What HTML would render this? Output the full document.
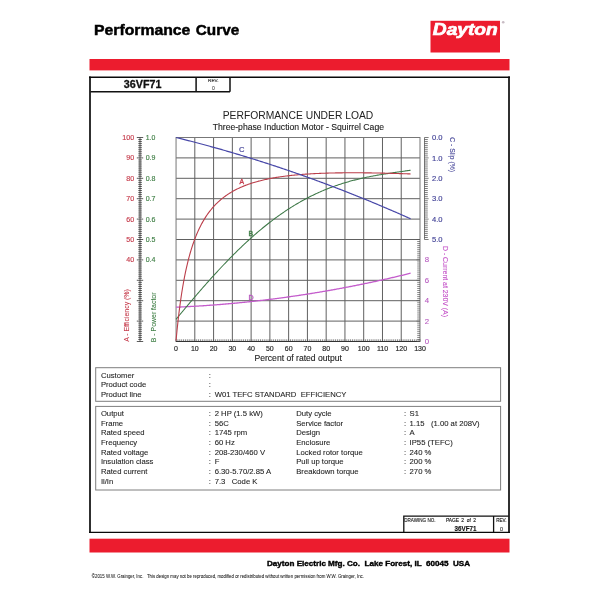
<!DOCTYPE html>
<html><head><meta charset="utf-8"><title>Performance Curve</title>
<style>html,body{margin:0;padding:0;background:#fff;width:600px;height:600px;overflow:hidden}svg{display:block;will-change:transform}text{font-family:"Liberation Sans",sans-serif}</style>
</head><body>
<svg width="600" height="600" viewBox="0 0 600 600" font-family="Liberation Sans, sans-serif">
<rect width="600" height="600" fill="#fff"/>
<text y="35.1" font-size="14.1" font-weight="bold" fill="#000" stroke="#000" stroke-width="0.45"><tspan x="94" textLength="96.4" lengthAdjust="spacingAndGlyphs">Performance</tspan><tspan x="195.8" textLength="43.4" lengthAdjust="spacingAndGlyphs">Curve</tspan></text>
<rect x="430.5" y="20.8" width="69.5" height="31.7" fill="#ec1c2e"/>
<text x="432.8" y="35.2" font-size="17" font-weight="bold" font-style="italic" fill="#fff" stroke="#fff" stroke-width="0.7" textLength="65" lengthAdjust="spacingAndGlyphs">Dayton</text>
<circle cx="503.2" cy="22.3" r="1.3" fill="#c8bcc4"/>
<rect x="89.5" y="59" width="420" height="11.4" fill="#ec1c2e"/>
<rect x="89.5" y="538.7" width="420" height="13.8" fill="#ec1c2e"/>
<rect x="90.4" y="77.2" width="118.4" height="0" fill="none"/>
<path d="M90 76.6 V533.1 M509 76.6 V533.1" stroke="#303030" stroke-width="2" fill="none"/>
<path d="M89 77.3 H510 M89 532.4 H510" stroke="#0a0a0a" stroke-width="1.4" fill="none"/>
<path d="M90.5 91.8 H230 M196.1 77.3 V91.8 M230 77.3 V91.8" stroke="#111" stroke-width="1.5" fill="none"/>
<text x="123.8" y="88" font-size="10.9" font-weight="bold" fill="#111" stroke="#111" stroke-width="0.3" textLength="37.6" lengthAdjust="spacingAndGlyphs">36VF71</text>
<text x="213.3" y="82.4" font-size="4.1" fill="#222" stroke="#222" stroke-width="0.1" text-anchor="middle" textLength="10.4" lengthAdjust="spacingAndGlyphs">REV.</text>
<text x="213.3" y="89.7" font-size="5.1" fill="#222" text-anchor="middle">0</text>
<text x="222.7" y="119" font-size="10.3" fill="#222" textLength="150.6" lengthAdjust="spacingAndGlyphs">PERFORMANCE UNDER LOAD</text>
<text x="212.7" y="130.2" font-size="8.6" fill="#222" stroke="#222" stroke-width="0.12" textLength="171.3" lengthAdjust="spacingAndGlyphs">Three-phase Induction Motor - Squirrel Cage</text>
<path d="M194.81 137.5 V341.5 M213.58 137.5 V341.5 M232.35 137.5 V341.5 M251.11 137.5 V341.5 M269.88 137.5 V341.5 M288.64 137.5 V341.5 M307.41 137.5 V341.5 M326.17 137.5 V341.5 M344.94 137.5 V341.5 M363.70 137.5 V341.5 M382.47 137.5 V341.5 M401.23 137.5 V341.5 M176.05 157.90 H420.00 M176.05 178.30 H420.00 M176.05 198.70 H420.00 M176.05 219.10 H420.00 M176.05 239.50 H420.00 M176.05 259.90 H420.00 M176.05 280.30 H420.00 M176.05 300.70 H420.00 M176.05 321.10 H420.00" stroke="#606060" stroke-width="1" fill="none"/>
<rect x="176.05" y="137.5" width="243.94" height="204.00" fill="none" stroke="#777" stroke-width="1"/>
<path d="M176.05 341.5 v-2.2 M177.93 341.5 v-2.2 M179.80 341.5 v-2.2 M181.68 341.5 v-2.2 M183.56 341.5 v-2.2 M185.43 341.5 v-2.2 M187.31 341.5 v-2.2 M189.19 341.5 v-2.2 M191.06 341.5 v-2.2 M192.94 341.5 v-2.2 M194.81 341.5 v-2.2 M196.69 341.5 v-2.2 M198.57 341.5 v-2.2 M200.44 341.5 v-2.2 M202.32 341.5 v-2.2 M204.20 341.5 v-2.2 M206.07 341.5 v-2.2 M207.95 341.5 v-2.2 M209.83 341.5 v-2.2 M211.70 341.5 v-2.2 M213.58 341.5 v-2.2 M215.46 341.5 v-2.2 M217.33 341.5 v-2.2 M219.21 341.5 v-2.2 M221.09 341.5 v-2.2 M222.96 341.5 v-2.2 M224.84 341.5 v-2.2 M226.72 341.5 v-2.2 M228.59 341.5 v-2.2 M230.47 341.5 v-2.2 M232.35 341.5 v-2.2 M234.22 341.5 v-2.2 M236.10 341.5 v-2.2 M237.97 341.5 v-2.2 M239.85 341.5 v-2.2 M241.73 341.5 v-2.2 M243.60 341.5 v-2.2 M245.48 341.5 v-2.2 M247.36 341.5 v-2.2 M249.23 341.5 v-2.2 M251.11 341.5 v-2.2 M252.99 341.5 v-2.2 M254.86 341.5 v-2.2 M256.74 341.5 v-2.2 M258.62 341.5 v-2.2 M260.49 341.5 v-2.2 M262.37 341.5 v-2.2 M264.25 341.5 v-2.2 M266.12 341.5 v-2.2 M268.00 341.5 v-2.2 M269.88 341.5 v-2.2 M271.75 341.5 v-2.2 M273.63 341.5 v-2.2 M275.50 341.5 v-2.2 M277.38 341.5 v-2.2 M279.26 341.5 v-2.2 M281.13 341.5 v-2.2 M283.01 341.5 v-2.2 M284.89 341.5 v-2.2 M286.76 341.5 v-2.2 M288.64 341.5 v-2.2 M290.52 341.5 v-2.2 M292.39 341.5 v-2.2 M294.27 341.5 v-2.2 M296.15 341.5 v-2.2 M298.02 341.5 v-2.2 M299.90 341.5 v-2.2 M301.78 341.5 v-2.2 M303.65 341.5 v-2.2 M305.53 341.5 v-2.2 M307.41 341.5 v-2.2 M309.28 341.5 v-2.2 M311.16 341.5 v-2.2 M313.03 341.5 v-2.2 M314.91 341.5 v-2.2 M316.79 341.5 v-2.2 M318.66 341.5 v-2.2 M320.54 341.5 v-2.2 M322.42 341.5 v-2.2 M324.29 341.5 v-2.2 M326.17 341.5 v-2.2 M328.05 341.5 v-2.2 M329.92 341.5 v-2.2 M331.80 341.5 v-2.2 M333.68 341.5 v-2.2 M335.55 341.5 v-2.2 M337.43 341.5 v-2.2 M339.31 341.5 v-2.2 M341.18 341.5 v-2.2 M343.06 341.5 v-2.2 M344.94 341.5 v-2.2 M346.81 341.5 v-2.2 M348.69 341.5 v-2.2 M350.56 341.5 v-2.2 M352.44 341.5 v-2.2 M354.32 341.5 v-2.2 M356.19 341.5 v-2.2 M358.07 341.5 v-2.2 M359.95 341.5 v-2.2 M361.82 341.5 v-2.2 M363.70 341.5 v-2.2 M365.58 341.5 v-2.2 M367.45 341.5 v-2.2 M369.33 341.5 v-2.2 M371.21 341.5 v-2.2 M373.08 341.5 v-2.2 M374.96 341.5 v-2.2 M376.84 341.5 v-2.2 M378.71 341.5 v-2.2 M380.59 341.5 v-2.2 M382.47 341.5 v-2.2 M384.34 341.5 v-2.2 M386.22 341.5 v-2.2 M388.09 341.5 v-2.2 M389.97 341.5 v-2.2 M391.85 341.5 v-2.2 M393.72 341.5 v-2.2 M395.60 341.5 v-2.2 M397.48 341.5 v-2.2 M399.35 341.5 v-2.2 M401.23 341.5 v-2.2 M403.11 341.5 v-2.2 M404.98 341.5 v-2.2 M406.86 341.5 v-2.2 M408.74 341.5 v-2.2 M410.61 341.5 v-2.2 M412.49 341.5 v-2.2 M414.37 341.5 v-2.2 M416.24 341.5 v-2.2 M418.12 341.5 v-2.2 M420.00 341.5 v-2.2" stroke="#555" stroke-width="0.7" fill="none"/>
<path d="M176.05 341.5 H420.00" stroke="#333" stroke-width="1.2"/>
<path d="M140 137.5 V341.5 M136.8 341.50 H143.2 M138.3 339.46 H141.9 M138.3 337.42 H141.9 M138.3 335.38 H141.9 M138.3 333.34 H141.9 M138.3 331.30 H141.9 M138.3 329.26 H141.9 M138.3 327.22 H141.9 M138.3 325.18 H141.9 M138.3 323.14 H141.9 M136.8 321.10 H143.2 M138.3 319.06 H141.9 M138.3 317.02 H141.9 M138.3 314.98 H141.9 M138.3 312.94 H141.9 M138.3 310.90 H141.9 M138.3 308.86 H141.9 M138.3 306.82 H141.9 M138.3 304.78 H141.9 M138.3 302.74 H141.9 M136.8 300.70 H143.2 M138.3 298.66 H141.9 M138.3 296.62 H141.9 M138.3 294.58 H141.9 M138.3 292.54 H141.9 M138.3 290.50 H141.9 M138.3 288.46 H141.9 M138.3 286.42 H141.9 M138.3 284.38 H141.9 M138.3 282.34 H141.9 M136.8 280.30 H143.2 M138.3 278.26 H141.9 M138.3 276.22 H141.9 M138.3 274.18 H141.9 M138.3 272.14 H141.9 M138.3 270.10 H141.9 M138.3 268.06 H141.9 M138.3 266.02 H141.9 M138.3 263.98 H141.9 M138.3 261.94 H141.9 M136.8 259.90 H143.2 M138.3 257.86 H141.9 M138.3 255.82 H141.9 M138.3 253.78 H141.9 M138.3 251.74 H141.9 M138.3 249.70 H141.9 M138.3 247.66 H141.9 M138.3 245.62 H141.9 M138.3 243.58 H141.9 M138.3 241.54 H141.9 M136.8 239.50 H143.2 M138.3 237.46 H141.9 M138.3 235.42 H141.9 M138.3 233.38 H141.9 M138.3 231.34 H141.9 M138.3 229.30 H141.9 M138.3 227.26 H141.9 M138.3 225.22 H141.9 M138.3 223.18 H141.9 M138.3 221.14 H141.9 M136.8 219.10 H143.2 M138.3 217.06 H141.9 M138.3 215.02 H141.9 M138.3 212.98 H141.9 M138.3 210.94 H141.9 M138.3 208.90 H141.9 M138.3 206.86 H141.9 M138.3 204.82 H141.9 M138.3 202.78 H141.9 M138.3 200.74 H141.9 M136.8 198.70 H143.2 M138.3 196.66 H141.9 M138.3 194.62 H141.9 M138.3 192.58 H141.9 M138.3 190.54 H141.9 M138.3 188.50 H141.9 M138.3 186.46 H141.9 M138.3 184.42 H141.9 M138.3 182.38 H141.9 M138.3 180.34 H141.9 M136.8 178.30 H143.2 M138.3 176.26 H141.9 M138.3 174.22 H141.9 M138.3 172.18 H141.9 M138.3 170.14 H141.9 M138.3 168.10 H141.9 M138.3 166.06 H141.9 M138.3 164.02 H141.9 M138.3 161.98 H141.9 M138.3 159.94 H141.9 M136.8 157.90 H143.2 M138.3 155.86 H141.9 M138.3 153.82 H141.9 M138.3 151.78 H141.9 M138.3 149.74 H141.9 M138.3 147.70 H141.9 M138.3 145.66 H141.9 M138.3 143.62 H141.9 M138.3 141.58 H141.9 M138.3 139.54 H141.9 M136.8 137.50 H143.2" stroke="#333" stroke-width="0.8" fill="none"/>
<text x="134.2" y="262.40" font-size="7.1" fill="#c63c4c" stroke="#c63c4c" stroke-width="0.15" text-anchor="end">40</text>
<text x="145.7" y="262.40" font-size="7.1" fill="#3f7f45" stroke="#3f7f45" stroke-width="0.15" textLength="9.8" lengthAdjust="spacingAndGlyphs">0.4</text>
<text x="134.2" y="242.00" font-size="7.1" fill="#c63c4c" stroke="#c63c4c" stroke-width="0.15" text-anchor="end">50</text>
<text x="145.7" y="242.00" font-size="7.1" fill="#3f7f45" stroke="#3f7f45" stroke-width="0.15" textLength="9.8" lengthAdjust="spacingAndGlyphs">0.5</text>
<text x="134.2" y="221.60" font-size="7.1" fill="#c63c4c" stroke="#c63c4c" stroke-width="0.15" text-anchor="end">60</text>
<text x="145.7" y="221.60" font-size="7.1" fill="#3f7f45" stroke="#3f7f45" stroke-width="0.15" textLength="9.8" lengthAdjust="spacingAndGlyphs">0.6</text>
<text x="134.2" y="201.20" font-size="7.1" fill="#c63c4c" stroke="#c63c4c" stroke-width="0.15" text-anchor="end">70</text>
<text x="145.7" y="201.20" font-size="7.1" fill="#3f7f45" stroke="#3f7f45" stroke-width="0.15" textLength="9.8" lengthAdjust="spacingAndGlyphs">0.7</text>
<text x="134.2" y="180.80" font-size="7.1" fill="#c63c4c" stroke="#c63c4c" stroke-width="0.15" text-anchor="end">80</text>
<text x="145.7" y="180.80" font-size="7.1" fill="#3f7f45" stroke="#3f7f45" stroke-width="0.15" textLength="9.8" lengthAdjust="spacingAndGlyphs">0.8</text>
<text x="134.2" y="160.40" font-size="7.1" fill="#c63c4c" stroke="#c63c4c" stroke-width="0.15" text-anchor="end">90</text>
<text x="145.7" y="160.40" font-size="7.1" fill="#3f7f45" stroke="#3f7f45" stroke-width="0.15" textLength="9.8" lengthAdjust="spacingAndGlyphs">0.9</text>
<text x="134.2" y="140.00" font-size="7.1" fill="#c63c4c" stroke="#c63c4c" stroke-width="0.15" text-anchor="end">100</text>
<text x="145.7" y="140.00" font-size="7.1" fill="#3f7f45" stroke="#3f7f45" stroke-width="0.15" textLength="9.6" lengthAdjust="spacingAndGlyphs">1.0</text>
<text transform="translate(129.3 341.8) rotate(-90)" font-size="6.9" fill="#c63c4c" stroke="#c63c4c" stroke-width="0.1" textLength="52.6" lengthAdjust="spacingAndGlyphs">A - Efficiency (%)</text>
<text transform="translate(155.9 342.3) rotate(-90)" font-size="6.9" fill="#3f7f45" stroke="#3f7f45" stroke-width="0.1" textLength="49.8" lengthAdjust="spacingAndGlyphs">B - Power factor</text>
<path d="M424.5 137.5 V239.50 M424.5 137.50 H428.6 M424.5 139.54 H427.8 M424.5 141.58 H427.8 M424.5 143.62 H427.8 M424.5 145.66 H427.8 M424.5 147.70 H427.8 M424.5 149.74 H427.8 M424.5 151.78 H427.8 M424.5 153.82 H427.8 M424.5 155.86 H427.8 M424.5 157.90 H428.6 M424.5 159.94 H427.8 M424.5 161.98 H427.8 M424.5 164.02 H427.8 M424.5 166.06 H427.8 M424.5 168.10 H427.8 M424.5 170.14 H427.8 M424.5 172.18 H427.8 M424.5 174.22 H427.8 M424.5 176.26 H427.8 M424.5 178.30 H428.6 M424.5 180.34 H427.8 M424.5 182.38 H427.8 M424.5 184.42 H427.8 M424.5 186.46 H427.8 M424.5 188.50 H427.8 M424.5 190.54 H427.8 M424.5 192.58 H427.8 M424.5 194.62 H427.8 M424.5 196.66 H427.8 M424.5 198.70 H428.6 M424.5 200.74 H427.8 M424.5 202.78 H427.8 M424.5 204.82 H427.8 M424.5 206.86 H427.8 M424.5 208.90 H427.8 M424.5 210.94 H427.8 M424.5 212.98 H427.8 M424.5 215.02 H427.8 M424.5 217.06 H427.8 M424.5 219.10 H428.6 M424.5 221.14 H427.8 M424.5 223.18 H427.8 M424.5 225.22 H427.8 M424.5 227.26 H427.8 M424.5 229.30 H427.8 M424.5 231.34 H427.8 M424.5 233.38 H427.8 M424.5 235.42 H427.8 M424.5 237.46 H427.8 M424.5 239.50 H428.6" stroke="#444" stroke-width="0.7" fill="none"/>
<text x="432" y="140.20" font-size="7.6" fill="#3f3f95" stroke="#3f3f95" stroke-width="0.15">0.0</text>
<text x="432" y="160.60" font-size="7.6" fill="#3f3f95" stroke="#3f3f95" stroke-width="0.15">1.0</text>
<text x="432" y="181.00" font-size="7.6" fill="#3f3f95" stroke="#3f3f95" stroke-width="0.15">2.0</text>
<text x="432" y="201.40" font-size="7.6" fill="#3f3f95" stroke="#3f3f95" stroke-width="0.15">3.0</text>
<text x="432" y="221.80" font-size="7.6" fill="#3f3f95" stroke="#3f3f95" stroke-width="0.15">4.0</text>
<text x="432" y="242.20" font-size="7.6" fill="#3f3f95" stroke="#3f3f95" stroke-width="0.15">5.0</text>
<text transform="translate(449.8 137.3) rotate(90)" font-size="6.8" fill="#3f3f95" stroke="#3f3f95" stroke-width="0.1" textLength="34.7" lengthAdjust="spacingAndGlyphs">C - Slip (%)</text>
<path d="M420.00 341.50 h-3.4 M420.00 339.46 h-2.8 M420.00 337.42 h-2.8 M420.00 335.38 h-2.8 M420.00 333.34 h-2.8 M420.00 331.30 h-2.8 M420.00 329.26 h-2.8 M420.00 327.22 h-2.8 M420.00 325.18 h-2.8 M420.00 323.14 h-2.8 M420.00 321.10 h-3.4 M420.00 319.06 h-2.8 M420.00 317.02 h-2.8 M420.00 314.98 h-2.8 M420.00 312.94 h-2.8 M420.00 310.90 h-2.8 M420.00 308.86 h-2.8 M420.00 306.82 h-2.8 M420.00 304.78 h-2.8 M420.00 302.74 h-2.8 M420.00 300.70 h-3.4 M420.00 298.66 h-2.8 M420.00 296.62 h-2.8 M420.00 294.58 h-2.8 M420.00 292.54 h-2.8 M420.00 290.50 h-2.8 M420.00 288.46 h-2.8 M420.00 286.42 h-2.8 M420.00 284.38 h-2.8 M420.00 282.34 h-2.8 M420.00 280.30 h-3.4 M420.00 278.26 h-2.8 M420.00 276.22 h-2.8 M420.00 274.18 h-2.8 M420.00 272.14 h-2.8 M420.00 270.10 h-2.8 M420.00 268.06 h-2.8 M420.00 266.02 h-2.8 M420.00 263.98 h-2.8 M420.00 261.94 h-2.8 M420.00 259.90 h-3.4 M420.00 257.86 h-2.8 M420.00 255.82 h-2.8 M420.00 253.78 h-2.8 M420.00 251.74 h-2.8 M420.00 249.70 h-2.8 M420.00 247.66 h-2.8 M420.00 245.62 h-2.8 M420.00 243.58 h-2.8 M420.00 241.54 h-2.8 M420.00 239.50 h-3.4" stroke="#555" stroke-width="0.7" fill="none"/>
<text x="426.9" y="343.90" font-size="7.8" fill="#b85cc0" stroke="#b85cc0" stroke-width="0.12" text-anchor="middle">0</text>
<text x="426.9" y="323.50" font-size="7.8" fill="#b85cc0" stroke="#b85cc0" stroke-width="0.12" text-anchor="middle">2</text>
<text x="426.9" y="303.10" font-size="7.8" fill="#b85cc0" stroke="#b85cc0" stroke-width="0.12" text-anchor="middle">4</text>
<text x="426.9" y="282.70" font-size="7.8" fill="#b85cc0" stroke="#b85cc0" stroke-width="0.12" text-anchor="middle">6</text>
<text x="426.9" y="262.30" font-size="7.8" fill="#b85cc0" stroke="#b85cc0" stroke-width="0.12" text-anchor="middle">8</text>
<text transform="translate(442.5 246) rotate(90)" font-size="6.9" fill="#c452c8" stroke="#c452c8" stroke-width="0.1" textLength="71" lengthAdjust="spacingAndGlyphs">D - Current at 230V (A)</text>
<text x="176.05" y="350.9" font-size="7" fill="#222" stroke="#222" stroke-width="0.15" text-anchor="middle">0</text>
<text x="194.81" y="350.9" font-size="7" fill="#222" stroke="#222" stroke-width="0.15" text-anchor="middle">10</text>
<text x="213.58" y="350.9" font-size="7" fill="#222" stroke="#222" stroke-width="0.15" text-anchor="middle">20</text>
<text x="232.35" y="350.9" font-size="7" fill="#222" stroke="#222" stroke-width="0.15" text-anchor="middle">30</text>
<text x="251.11" y="350.9" font-size="7" fill="#222" stroke="#222" stroke-width="0.15" text-anchor="middle">40</text>
<text x="269.88" y="350.9" font-size="7" fill="#222" stroke="#222" stroke-width="0.15" text-anchor="middle">50</text>
<text x="288.64" y="350.9" font-size="7" fill="#222" stroke="#222" stroke-width="0.15" text-anchor="middle">60</text>
<text x="307.41" y="350.9" font-size="7" fill="#222" stroke="#222" stroke-width="0.15" text-anchor="middle">70</text>
<text x="326.17" y="350.9" font-size="7" fill="#222" stroke="#222" stroke-width="0.15" text-anchor="middle">80</text>
<text x="344.94" y="350.9" font-size="7" fill="#222" stroke="#222" stroke-width="0.15" text-anchor="middle">90</text>
<text x="363.70" y="350.9" font-size="7" fill="#222" stroke="#222" stroke-width="0.15" text-anchor="middle">100</text>
<text x="382.47" y="350.9" font-size="7" fill="#222" stroke="#222" stroke-width="0.15" text-anchor="middle">110</text>
<text x="401.23" y="350.9" font-size="7" fill="#222" stroke="#222" stroke-width="0.15" text-anchor="middle">120</text>
<text x="420.00" y="350.9" font-size="7" fill="#222" stroke="#222" stroke-width="0.15" text-anchor="middle">130</text>
<text x="254.4" y="361.2" font-size="8.7" fill="#222" stroke="#222" stroke-width="0.12" textLength="87.6" lengthAdjust="spacingAndGlyphs">Percent of rated output</text>
<path d="M176.05,307.21 L176.99,307.17 L177.93,307.13 L178.86,307.09 L179.80,307.04 L180.74,307.00 L181.68,306.96 L182.62,306.91 L183.56,306.86 L184.49,306.82 L185.43,306.77 L186.37,306.72 L187.31,306.67 L188.25,306.62 L189.19,306.57 L190.12,306.52 L191.06,306.47 L192.00,306.42 L192.94,306.36 L193.88,306.31 L194.81,306.26 L195.75,306.20 L196.69,306.14 L197.63,306.09 L198.57,306.03 L199.51,305.97 L200.44,305.91 L201.38,305.85 L202.32,305.79 L203.26,305.73 L204.20,305.66 L205.14,305.60 L206.07,305.54 L207.01,305.47 L207.95,305.40 L208.89,305.34 L209.83,305.27 L210.77,305.20 L211.70,305.13 L212.64,305.06 L213.58,304.99 L214.52,304.92 L215.46,304.85 L216.39,304.78 L217.33,304.70 L218.27,304.63 L219.21,304.56 L220.15,304.48 L221.09,304.40 L222.02,304.33 L222.96,304.25 L223.90,304.17 L224.84,304.09 L225.78,304.01 L226.72,303.93 L227.65,303.85 L228.59,303.76 L229.53,303.68 L230.47,303.60 L231.41,303.51 L232.35,303.43 L233.28,303.34 L234.22,303.25 L235.16,303.16 L236.10,303.08 L237.04,302.99 L237.97,302.90 L238.91,302.80 L239.85,302.71 L240.79,302.62 L241.73,302.53 L242.67,302.43 L243.60,302.34 L244.54,302.24 L245.48,302.15 L246.42,302.05 L247.36,301.95 L248.30,301.85 L249.23,301.75 L250.17,301.65 L251.11,301.55 L252.05,301.45 L252.99,301.35 L253.92,301.24 L254.86,301.14 L255.80,301.04 L256.74,300.93 L257.68,300.82 L258.62,300.72 L259.55,300.61 L260.49,300.50 L261.43,300.39 L262.37,300.28 L263.31,300.17 L264.25,300.06 L265.18,299.94 L266.12,299.83 L267.06,299.72 L268.00,299.60 L268.94,299.49 L269.88,299.37 L270.81,299.25 L271.75,299.14 L272.69,299.02 L273.63,298.90 L274.57,298.78 L275.50,298.66 L276.44,298.53 L277.38,298.41 L278.32,298.29 L279.26,298.17 L280.20,298.04 L281.13,297.91 L282.07,297.79 L283.01,297.66 L283.95,297.53 L284.89,297.40 L285.83,297.28 L286.76,297.15 L287.70,297.01 L288.64,296.88 L289.58,296.75 L290.52,296.62 L291.45,296.48 L292.39,296.35 L293.33,296.21 L294.27,296.08 L295.21,295.94 L296.15,295.80 L297.08,295.66 L298.02,295.52 L298.96,295.38 L299.90,295.24 L300.84,295.10 L301.78,294.96 L302.71,294.82 L303.65,294.67 L304.59,294.53 L305.53,294.38 L306.47,294.24 L307.41,294.09 L308.34,293.94 L309.28,293.79 L310.22,293.64 L311.16,293.49 L312.10,293.34 L313.03,293.19 L313.97,293.04 L314.91,292.89 L315.85,292.73 L316.79,292.58 L317.73,292.42 L318.66,292.27 L319.60,292.11 L320.54,291.95 L321.48,291.79 L322.42,291.63 L323.36,291.47 L324.29,291.31 L325.23,291.15 L326.17,290.99 L327.11,290.82 L328.05,290.66 L328.98,290.50 L329.92,290.33 L330.86,290.17 L331.80,290.00 L332.74,289.83 L333.68,289.66 L334.61,289.49 L335.55,289.32 L336.49,289.15 L337.43,288.98 L338.37,288.81 L339.31,288.64 L340.24,288.46 L341.18,288.29 L342.12,288.11 L343.06,287.94 L344.00,287.76 L344.94,287.58 L345.87,287.40 L346.81,287.22 L347.75,287.04 L348.69,286.86 L349.63,286.68 L350.56,286.50 L351.50,286.32 L352.44,286.13 L353.38,285.95 L354.32,285.76 L355.26,285.58 L356.19,285.39 L357.13,285.20 L358.07,285.01 L359.01,284.82 L359.95,284.63 L360.89,284.44 L361.82,284.25 L362.76,284.06 L363.70,283.87 L364.64,283.67 L365.58,283.48 L366.51,283.28 L367.45,283.09 L368.39,282.89 L369.33,282.69 L370.27,282.49 L371.21,282.30 L372.14,282.10 L373.08,281.90 L374.02,281.69 L374.96,281.49 L375.90,281.29 L376.84,281.08 L377.77,280.88 L378.71,280.68 L379.65,280.47 L380.59,280.26 L381.53,280.05 L382.47,279.85 L383.40,279.64 L384.34,279.43 L385.28,279.22 L386.22,279.01 L387.16,278.79 L388.09,278.58 L389.03,278.37 L389.97,278.15 L390.91,277.94 L391.85,277.72 L392.79,277.50 L393.72,277.29 L394.66,277.07 L395.60,276.85 L396.54,276.63 L397.48,276.41 L398.42,276.19 L399.35,275.97 L400.29,275.74 L401.23,275.52 L402.17,275.30 L403.11,275.07 L404.04,274.84 L404.98,274.62 L405.92,274.39 L406.86,274.16 L407.80,273.93 L408.74,273.70 L409.67,273.47 L410.61,273.24" stroke="#c45ccc" stroke-width="1.3" fill="none"/>
<path d="M176.05,319.29 L176.99,318.16 L177.93,317.03 L178.86,315.90 L179.80,314.77 L180.74,313.64 L181.68,312.51 L182.62,311.39 L183.56,310.26 L184.49,309.14 L185.43,308.02 L186.37,306.90 L187.31,305.79 L188.25,304.67 L189.19,303.56 L190.12,302.45 L191.06,301.34 L192.00,300.24 L192.94,299.14 L193.88,298.04 L194.81,296.94 L195.75,295.84 L196.69,294.75 L197.63,293.66 L198.57,292.57 L199.51,291.49 L200.44,290.41 L201.38,289.33 L202.32,288.25 L203.26,287.18 L204.20,286.11 L205.14,285.05 L206.07,283.98 L207.01,282.92 L207.95,281.87 L208.89,280.82 L209.83,279.77 L210.77,278.72 L211.70,277.68 L212.64,276.64 L213.58,275.61 L214.52,274.58 L215.46,273.56 L216.39,272.53 L217.33,271.52 L218.27,270.50 L219.21,269.49 L220.15,268.49 L221.09,267.49 L222.02,266.49 L222.96,265.50 L223.90,264.51 L224.84,263.52 L225.78,262.55 L226.72,261.57 L227.65,260.60 L228.59,259.64 L229.53,258.67 L230.47,257.72 L231.41,256.77 L232.35,255.82 L233.28,254.88 L234.22,253.94 L235.16,253.01 L236.10,252.08 L237.04,251.16 L237.97,250.24 L238.91,249.33 L239.85,248.42 L240.79,247.52 L241.73,246.63 L242.67,245.74 L243.60,244.85 L244.54,243.97 L245.48,243.09 L246.42,242.22 L247.36,241.36 L248.30,240.50 L249.23,239.65 L250.17,238.80 L251.11,237.95 L252.05,237.12 L252.99,236.28 L253.92,235.46 L254.86,234.64 L255.80,233.82 L256.74,233.01 L257.68,232.21 L258.62,231.41 L259.55,230.62 L260.49,229.83 L261.43,229.05 L262.37,228.27 L263.31,227.50 L264.25,226.74 L265.18,225.98 L266.12,225.23 L267.06,224.48 L268.00,223.74 L268.94,223.01 L269.88,222.28 L270.81,221.56 L271.75,220.84 L272.69,220.13 L273.63,219.42 L274.57,218.73 L275.50,218.03 L276.44,217.34 L277.38,216.66 L278.32,215.99 L279.26,215.32 L280.20,214.65 L281.13,214.00 L282.07,213.35 L283.01,212.70 L283.95,212.06 L284.89,211.43 L285.83,210.80 L286.76,210.18 L287.70,209.56 L288.64,208.95 L289.58,208.35 L290.52,207.75 L291.45,207.16 L292.39,206.57 L293.33,205.99 L294.27,205.42 L295.21,204.85 L296.15,204.29 L297.08,203.73 L298.02,203.18 L298.96,202.63 L299.90,202.10 L300.84,201.56 L301.78,201.04 L302.71,200.51 L303.65,200.00 L304.59,199.49 L305.53,198.99 L306.47,198.49 L307.41,198.00 L308.34,197.51 L309.28,197.03 L310.22,196.55 L311.16,196.08 L312.10,195.62 L313.03,195.16 L313.97,194.71 L314.91,194.26 L315.85,193.82 L316.79,193.38 L317.73,192.95 L318.66,192.53 L319.60,192.11 L320.54,191.70 L321.48,191.29 L322.42,190.88 L323.36,190.49 L324.29,190.09 L325.23,189.71 L326.17,189.33 L327.11,188.95 L328.05,188.58 L328.98,188.21 L329.92,187.85 L330.86,187.49 L331.80,187.14 L332.74,186.80 L333.68,186.45 L334.61,186.12 L335.55,185.79 L336.49,185.46 L337.43,185.14 L338.37,184.82 L339.31,184.51 L340.24,184.20 L341.18,183.90 L342.12,183.60 L343.06,183.31 L344.00,183.02 L344.94,182.73 L345.87,182.45 L346.81,182.18 L347.75,181.90 L348.69,181.64 L349.63,181.37 L350.56,181.11 L351.50,180.86 L352.44,180.61 L353.38,180.36 L354.32,180.12 L355.26,179.88 L356.19,179.64 L357.13,179.41 L358.07,179.18 L359.01,178.96 L359.95,178.74 L360.89,178.52 L361.82,178.31 L362.76,178.10 L363.70,177.89 L364.64,177.69 L365.58,177.49 L366.51,177.29 L367.45,177.10 L368.39,176.90 L369.33,176.72 L370.27,176.53 L371.21,176.35 L372.14,176.17 L373.08,175.99 L374.02,175.82 L374.96,175.65 L375.90,175.48 L376.84,175.31 L377.77,175.14 L378.71,174.98 L379.65,174.82 L380.59,174.66 L381.53,174.51 L382.47,174.35 L383.40,174.20 L384.34,174.05 L385.28,173.90 L386.22,173.75 L387.16,173.61 L388.09,173.46 L389.03,173.32 L389.97,173.18 L390.91,173.04 L391.85,172.90 L392.79,172.76 L393.72,172.63 L394.66,172.49 L395.60,172.36 L396.54,172.22 L397.48,172.09 L398.42,171.95 L399.35,171.82 L400.29,171.69 L401.23,171.55 L402.17,171.42 L403.11,171.29 L404.04,171.16 L404.98,171.03 L405.92,170.89 L406.86,170.76 L407.80,170.63 L408.74,170.49 L409.67,170.36 L410.61,170.22" stroke="#3d7847" stroke-width="1.05" fill="none"/>
<path d="M176.05,340.50 L176.99,330.73 L177.93,321.86 L178.86,313.77 L179.80,306.37 L180.74,299.56 L181.68,293.29 L182.62,287.49 L183.56,282.12 L184.49,277.12 L185.43,272.46 L186.37,268.11 L187.31,264.04 L188.25,260.22 L189.19,256.64 L190.12,253.27 L191.06,250.08 L192.00,247.08 L192.94,244.24 L193.88,241.56 L194.81,239.01 L195.75,236.59 L196.69,234.29 L197.63,232.11 L198.57,230.03 L199.51,228.05 L200.44,226.15 L201.38,224.35 L202.32,222.62 L203.26,220.97 L204.20,219.39 L205.14,217.87 L206.07,216.42 L207.01,215.02 L207.95,213.69 L208.89,212.40 L209.83,211.17 L210.77,209.98 L211.70,208.83 L212.64,207.73 L213.58,206.67 L214.52,205.65 L215.46,204.66 L216.39,203.71 L217.33,202.79 L218.27,201.91 L219.21,201.05 L220.15,200.22 L221.09,199.42 L222.02,198.65 L222.96,197.90 L223.90,197.17 L224.84,196.47 L225.78,195.79 L226.72,195.13 L227.65,194.50 L228.59,193.88 L229.53,193.28 L230.47,192.70 L231.41,192.13 L232.35,191.59 L233.28,191.06 L234.22,190.54 L235.16,190.04 L236.10,189.55 L237.04,189.08 L237.97,188.62 L238.91,188.18 L239.85,187.74 L240.79,187.32 L241.73,186.91 L242.67,186.51 L243.60,186.12 L244.54,185.75 L245.48,185.38 L246.42,185.02 L247.36,184.68 L248.30,184.34 L249.23,184.01 L250.17,183.69 L251.11,183.38 L252.05,183.07 L252.99,182.78 L253.92,182.49 L254.86,182.21 L255.80,181.93 L256.74,181.67 L257.68,181.41 L258.62,181.15 L259.55,180.91 L260.49,180.67 L261.43,180.43 L262.37,180.21 L263.31,179.98 L264.25,179.77 L265.18,179.56 L266.12,179.35 L267.06,179.15 L268.00,178.96 L268.94,178.76 L269.88,178.58 L270.81,178.40 L271.75,178.22 L272.69,178.05 L273.63,177.88 L274.57,177.72 L275.50,177.56 L276.44,177.40 L277.38,177.25 L278.32,177.11 L279.26,176.96 L280.20,176.82 L281.13,176.69 L282.07,176.55 L283.01,176.42 L283.95,176.30 L284.89,176.18 L285.83,176.06 L286.76,175.94 L287.70,175.83 L288.64,175.72 L289.58,175.61 L290.52,175.50 L291.45,175.40 L292.39,175.30 L293.33,175.21 L294.27,175.11 L295.21,175.02 L296.15,174.93 L297.08,174.85 L298.02,174.76 L298.96,174.68 L299.90,174.60 L300.84,174.52 L301.78,174.45 L302.71,174.38 L303.65,174.31 L304.59,174.24 L305.53,174.17 L306.47,174.11 L307.41,174.04 L308.34,173.98 L309.28,173.93 L310.22,173.87 L311.16,173.81 L312.10,173.76 L313.03,173.71 L313.97,173.66 L314.91,173.61 L315.85,173.57 L316.79,173.52 L317.73,173.48 L318.66,173.44 L319.60,173.40 L320.54,173.36 L321.48,173.32 L322.42,173.28 L323.36,173.25 L324.29,173.22 L325.23,173.19 L326.17,173.16 L327.11,173.13 L328.05,173.10 L328.98,173.07 L329.92,173.05 L330.86,173.02 L331.80,173.00 L332.74,172.98 L333.68,172.96 L334.61,172.94 L335.55,172.92 L336.49,172.91 L337.43,172.89 L338.37,172.88 L339.31,172.86 L340.24,172.85 L341.18,172.84 L342.12,172.83 L343.06,172.82 L344.00,172.81 L344.94,172.80 L345.87,172.80 L346.81,172.79 L347.75,172.78 L348.69,172.78 L349.63,172.78 L350.56,172.78 L351.50,172.77 L352.44,172.77 L353.38,172.77 L354.32,172.78 L355.26,172.78 L356.19,172.78 L357.13,172.78 L358.07,172.79 L359.01,172.79 L359.95,172.80 L360.89,172.80 L361.82,172.81 L362.76,172.82 L363.70,172.83 L364.64,172.84 L365.58,172.85 L366.51,172.86 L367.45,172.87 L368.39,172.88 L369.33,172.89 L370.27,172.91 L371.21,172.92 L372.14,172.94 L373.08,172.95 L374.02,172.97 L374.96,172.98 L375.90,173.00 L376.84,173.02 L377.77,173.03 L378.71,173.05 L379.65,173.07 L380.59,173.09 L381.53,173.11 L382.47,173.13 L383.40,173.15 L384.34,173.17 L385.28,173.20 L386.22,173.22 L387.16,173.24 L388.09,173.26 L389.03,173.29 L389.97,173.31 L390.91,173.34 L391.85,173.36 L392.79,173.39 L393.72,173.41 L394.66,173.44 L395.60,173.47 L396.54,173.50 L397.48,173.52 L398.42,173.55 L399.35,173.58 L400.29,173.61 L401.23,173.64 L402.17,173.67 L403.11,173.70 L404.04,173.73 L404.98,173.76 L405.92,173.79 L406.86,173.82 L407.80,173.85 L408.74,173.89 L409.67,173.92 L410.61,173.95" stroke="#bb3e4a" stroke-width="1.1" fill="none"/>
<path d="M176.05,137.50 L176.99,137.73 L177.93,137.96 L178.86,138.19 L179.80,138.43 L180.74,138.66 L181.68,138.90 L182.62,139.13 L183.56,139.37 L184.49,139.61 L185.43,139.84 L186.37,140.08 L187.31,140.32 L188.25,140.56 L189.19,140.80 L190.12,141.04 L191.06,141.29 L192.00,141.53 L192.94,141.77 L193.88,142.02 L194.81,142.26 L195.75,142.51 L196.69,142.75 L197.63,143.00 L198.57,143.25 L199.51,143.50 L200.44,143.75 L201.38,144.00 L202.32,144.25 L203.26,144.50 L204.20,144.76 L205.14,145.01 L206.07,145.26 L207.01,145.52 L207.95,145.78 L208.89,146.03 L209.83,146.29 L210.77,146.55 L211.70,146.81 L212.64,147.07 L213.58,147.33 L214.52,147.59 L215.46,147.85 L216.39,148.11 L217.33,148.38 L218.27,148.64 L219.21,148.90 L220.15,149.17 L221.09,149.44 L222.02,149.70 L222.96,149.97 L223.90,150.24 L224.84,150.51 L225.78,150.78 L226.72,151.05 L227.65,151.32 L228.59,151.60 L229.53,151.87 L230.47,152.14 L231.41,152.42 L232.35,152.69 L233.28,152.97 L234.22,153.25 L235.16,153.52 L236.10,153.80 L237.04,154.08 L237.97,154.36 L238.91,154.64 L239.85,154.93 L240.79,155.21 L241.73,155.49 L242.67,155.77 L243.60,156.06 L244.54,156.34 L245.48,156.63 L246.42,156.92 L247.36,157.21 L248.30,157.49 L249.23,157.78 L250.17,158.07 L251.11,158.36 L252.05,158.65 L252.99,158.95 L253.92,159.24 L254.86,159.53 L255.80,159.83 L256.74,160.12 L257.68,160.42 L258.62,160.72 L259.55,161.01 L260.49,161.31 L261.43,161.61 L262.37,161.91 L263.31,162.21 L264.25,162.51 L265.18,162.81 L266.12,163.12 L267.06,163.42 L268.00,163.73 L268.94,164.03 L269.88,164.34 L270.81,164.64 L271.75,164.95 L272.69,165.26 L273.63,165.57 L274.57,165.88 L275.50,166.19 L276.44,166.50 L277.38,166.81 L278.32,167.12 L279.26,167.44 L280.20,167.75 L281.13,168.07 L282.07,168.38 L283.01,168.70 L283.95,169.01 L284.89,169.33 L285.83,169.65 L286.76,169.97 L287.70,170.29 L288.64,170.61 L289.58,170.93 L290.52,171.26 L291.45,171.58 L292.39,171.90 L293.33,172.23 L294.27,172.55 L295.21,172.88 L296.15,173.21 L297.08,173.53 L298.02,173.86 L298.96,174.19 L299.90,174.52 L300.84,174.85 L301.78,175.18 L302.71,175.52 L303.65,175.85 L304.59,176.18 L305.53,176.52 L306.47,176.85 L307.41,177.19 L308.34,177.53 L309.28,177.86 L310.22,178.20 L311.16,178.54 L312.10,178.88 L313.03,179.22 L313.97,179.56 L314.91,179.91 L315.85,180.25 L316.79,180.59 L317.73,180.94 L318.66,181.28 L319.60,181.63 L320.54,181.97 L321.48,182.32 L322.42,182.67 L323.36,183.02 L324.29,183.37 L325.23,183.72 L326.17,184.07 L327.11,184.42 L328.05,184.78 L328.98,185.13 L329.92,185.48 L330.86,185.84 L331.80,186.19 L332.74,186.55 L333.68,186.91 L334.61,187.27 L335.55,187.62 L336.49,187.98 L337.43,188.34 L338.37,188.71 L339.31,189.07 L340.24,189.43 L341.18,189.79 L342.12,190.16 L343.06,190.52 L344.00,190.89 L344.94,191.25 L345.87,191.62 L346.81,191.99 L347.75,192.36 L348.69,192.73 L349.63,193.10 L350.56,193.47 L351.50,193.84 L352.44,194.21 L353.38,194.59 L354.32,194.96 L355.26,195.33 L356.19,195.71 L357.13,196.09 L358.07,196.46 L359.01,196.84 L359.95,197.22 L360.89,197.60 L361.82,197.98 L362.76,198.36 L363.70,198.74 L364.64,199.12 L365.58,199.51 L366.51,199.89 L367.45,200.27 L368.39,200.66 L369.33,201.05 L370.27,201.43 L371.21,201.82 L372.14,202.21 L373.08,202.60 L374.02,202.99 L374.96,203.38 L375.90,203.77 L376.84,204.16 L377.77,204.55 L378.71,204.95 L379.65,205.34 L380.59,205.74 L381.53,206.13 L382.47,206.53 L383.40,206.93 L384.34,207.33 L385.28,207.72 L386.22,208.12 L387.16,208.52 L388.09,208.93 L389.03,209.33 L389.97,209.73 L390.91,210.13 L391.85,210.54 L392.79,210.94 L393.72,211.35 L394.66,211.76 L395.60,212.16 L396.54,212.57 L397.48,212.98 L398.42,213.39 L399.35,213.80 L400.29,214.21 L401.23,214.62 L402.17,215.03 L403.11,215.45 L404.04,215.86 L404.98,216.28 L405.92,216.69 L406.86,217.11 L407.80,217.53 L408.74,217.94 L409.67,218.36 L410.61,218.78" stroke="#4747a8" stroke-width="1.2" fill="none"/>
<text x="241.8" y="152.4" font-size="7.6" fill="#3f3f95" stroke="#3f3f95" stroke-width="0.15" text-anchor="middle">C</text>
<text x="241.8" y="184.4" font-size="6.8" fill="#c63c4c" stroke="#c63c4c" stroke-width="0.35" text-anchor="middle">A</text>
<text x="250.9" y="235.7" font-size="6.9" fill="#3f7f45" stroke="#3f7f45" stroke-width="0.35" text-anchor="middle">B</text>
<text x="251.1" y="299.5" font-size="7" fill="#b85cc0" stroke="#b85cc0" stroke-width="0.35" text-anchor="middle">D</text>
<rect x="95.7" y="367.7" width="404.9" height="33.6" fill="none" stroke="#7e7e7e" stroke-width="1"/>
<rect x="95.7" y="406.4" width="404.9" height="83.6" fill="none" stroke="#7e7e7e" stroke-width="1"/>
<text x="100.9" y="377.80" font-size="7.7" fill="#262626" stroke="#262626" stroke-width="0.1">Customer</text>
<text x="208.7" y="377.80" font-size="7.7" fill="#262626" stroke="#262626" stroke-width="0.1">:</text>
<text x="100.9" y="387.45" font-size="7.7" fill="#262626" stroke="#262626" stroke-width="0.1">Product code</text>
<text x="208.7" y="387.45" font-size="7.7" fill="#262626" stroke="#262626" stroke-width="0.1">:</text>
<text x="100.9" y="397.10" font-size="7.7" fill="#262626" stroke="#262626" stroke-width="0.1">Product line</text>
<text x="208.7" y="397.10" font-size="7.7" fill="#262626" stroke="#262626" stroke-width="0.1">:</text>
<text x="214.7" y="397.10" font-size="7.7" fill="#262626" stroke="#262626" stroke-width="0.1" xml:space="preserve">W01 TEFC STANDARD  EFFICIENCY</text>
<text x="100.9" y="416.10" font-size="7.7" fill="#262626" stroke="#262626" stroke-width="0.1">Output</text>
<text x="208.7" y="416.10" font-size="7.7" fill="#262626" stroke="#262626" stroke-width="0.1">:</text>
<text x="214.7" y="416.10" font-size="7.7" fill="#262626" stroke="#262626" stroke-width="0.1" xml:space="preserve">2 HP (1.5 kW)</text>
<text x="296.2" y="416.10" font-size="7.7" fill="#262626" stroke="#262626" stroke-width="0.1">Duty cycle</text>
<text x="404" y="416.10" font-size="7.7" fill="#262626" stroke="#262626" stroke-width="0.1">:</text>
<text x="409.6" y="416.10" font-size="7.7" fill="#262626" stroke="#262626" stroke-width="0.1" xml:space="preserve">S1</text>
<text x="100.9" y="425.73" font-size="7.7" fill="#262626" stroke="#262626" stroke-width="0.1">Frame</text>
<text x="208.7" y="425.73" font-size="7.7" fill="#262626" stroke="#262626" stroke-width="0.1">:</text>
<text x="214.7" y="425.73" font-size="7.7" fill="#262626" stroke="#262626" stroke-width="0.1" xml:space="preserve">56C</text>
<text x="296.2" y="425.73" font-size="7.7" fill="#262626" stroke="#262626" stroke-width="0.1">Service factor</text>
<text x="404" y="425.73" font-size="7.7" fill="#262626" stroke="#262626" stroke-width="0.1">:</text>
<text x="409.6" y="425.73" font-size="7.7" fill="#262626" stroke="#262626" stroke-width="0.1" xml:space="preserve">1.15   (1.00 at 208V)</text>
<text x="100.9" y="435.36" font-size="7.7" fill="#262626" stroke="#262626" stroke-width="0.1">Rated speed</text>
<text x="208.7" y="435.36" font-size="7.7" fill="#262626" stroke="#262626" stroke-width="0.1">:</text>
<text x="214.7" y="435.36" font-size="7.7" fill="#262626" stroke="#262626" stroke-width="0.1" xml:space="preserve">1745 rpm</text>
<text x="296.2" y="435.36" font-size="7.7" fill="#262626" stroke="#262626" stroke-width="0.1">Design</text>
<text x="404" y="435.36" font-size="7.7" fill="#262626" stroke="#262626" stroke-width="0.1">:</text>
<text x="409.6" y="435.36" font-size="7.7" fill="#262626" stroke="#262626" stroke-width="0.1" xml:space="preserve">A</text>
<text x="100.9" y="444.99" font-size="7.7" fill="#262626" stroke="#262626" stroke-width="0.1">Frequency</text>
<text x="208.7" y="444.99" font-size="7.7" fill="#262626" stroke="#262626" stroke-width="0.1">:</text>
<text x="214.7" y="444.99" font-size="7.7" fill="#262626" stroke="#262626" stroke-width="0.1" xml:space="preserve">60 Hz</text>
<text x="296.2" y="444.99" font-size="7.7" fill="#262626" stroke="#262626" stroke-width="0.1">Enclosure</text>
<text x="404" y="444.99" font-size="7.7" fill="#262626" stroke="#262626" stroke-width="0.1">:</text>
<text x="409.6" y="444.99" font-size="7.7" fill="#262626" stroke="#262626" stroke-width="0.1" xml:space="preserve">IP55 (TEFC)</text>
<text x="100.9" y="454.62" font-size="7.7" fill="#262626" stroke="#262626" stroke-width="0.1">Rated voltage</text>
<text x="208.7" y="454.62" font-size="7.7" fill="#262626" stroke="#262626" stroke-width="0.1">:</text>
<text x="214.7" y="454.62" font-size="7.7" fill="#262626" stroke="#262626" stroke-width="0.1" xml:space="preserve">208-230/460 V</text>
<text x="296.2" y="454.62" font-size="7.7" fill="#262626" stroke="#262626" stroke-width="0.1">Locked rotor torque</text>
<text x="404" y="454.62" font-size="7.7" fill="#262626" stroke="#262626" stroke-width="0.1">:</text>
<text x="409.6" y="454.62" font-size="7.7" fill="#262626" stroke="#262626" stroke-width="0.1" xml:space="preserve">240 %</text>
<text x="100.9" y="464.25" font-size="7.7" fill="#262626" stroke="#262626" stroke-width="0.1">Insulation class</text>
<text x="208.7" y="464.25" font-size="7.7" fill="#262626" stroke="#262626" stroke-width="0.1">:</text>
<text x="214.7" y="464.25" font-size="7.7" fill="#262626" stroke="#262626" stroke-width="0.1" xml:space="preserve">F</text>
<text x="296.2" y="464.25" font-size="7.7" fill="#262626" stroke="#262626" stroke-width="0.1">Pull up torque</text>
<text x="404" y="464.25" font-size="7.7" fill="#262626" stroke="#262626" stroke-width="0.1">:</text>
<text x="409.6" y="464.25" font-size="7.7" fill="#262626" stroke="#262626" stroke-width="0.1" xml:space="preserve">200 %</text>
<text x="100.9" y="473.88" font-size="7.7" fill="#262626" stroke="#262626" stroke-width="0.1">Rated current</text>
<text x="208.7" y="473.88" font-size="7.7" fill="#262626" stroke="#262626" stroke-width="0.1">:</text>
<text x="214.7" y="473.88" font-size="7.7" fill="#262626" stroke="#262626" stroke-width="0.1" xml:space="preserve">6.30-5.70/2.85 A</text>
<text x="296.2" y="473.88" font-size="7.7" fill="#262626" stroke="#262626" stroke-width="0.1">Breakdown torque</text>
<text x="404" y="473.88" font-size="7.7" fill="#262626" stroke="#262626" stroke-width="0.1">:</text>
<text x="409.6" y="473.88" font-size="7.7" fill="#262626" stroke="#262626" stroke-width="0.1" xml:space="preserve">270 %</text>
<text x="100.9" y="483.51" font-size="7.7" fill="#262626" stroke="#262626" stroke-width="0.1">Il/In</text>
<text x="208.7" y="483.51" font-size="7.7" fill="#262626" stroke="#262626" stroke-width="0.1">:</text>
<text x="214.7" y="483.51" font-size="7.7" fill="#262626" stroke="#262626" stroke-width="0.1" xml:space="preserve">7.3   Code K</text>
<path d="M403.8 532 V516.2 H508.7 M493.6 516.2 V532" stroke="#111" stroke-width="1.3" fill="none"/>
<text x="404.3" y="521.8" font-size="4.5" fill="#111" stroke="#111" stroke-width="0.1" textLength="31.2" lengthAdjust="spacingAndGlyphs">DRAWING NO.</text>
<text y="521.8" font-size="4.9" fill="#111" stroke="#111" stroke-width="0.12"><tspan x="445.9">PAGE</tspan><tspan x="461.3">2</tspan><tspan x="466.8">of</tspan><tspan x="473.2">2</tspan></text>
<text x="454.6" y="530.8" font-size="6.8" font-weight="bold" fill="#111" stroke="#111" stroke-width="0.15" textLength="21.9" lengthAdjust="spacingAndGlyphs">36VF71</text>
<text x="501.3" y="521.8" font-size="4.6" fill="#111" stroke="#111" stroke-width="0.12" text-anchor="middle">REV.</text>
<text x="501.6" y="530.7" font-size="6.2" fill="#222" text-anchor="middle">0</text>
<text x="267" y="566.4" font-size="7.1" font-weight="bold" fill="#000" stroke="#000" stroke-width="0.35" textLength="203" lengthAdjust="spacingAndGlyphs" xml:space="preserve">Dayton Electric Mfg. Co.  Lake Forest, IL  60045  USA</text>
<text x="91.8" y="578.3" font-size="4.8" fill="#222" stroke="#222" stroke-width="0.06" textLength="272.2" lengthAdjust="spacingAndGlyphs" xml:space="preserve">©2015 W.W. Grainger, Inc.   This design may not be reproduced, modified or redistributed without written permission from W.W. Grainger, Inc.</text>
</svg>
</body></html>
